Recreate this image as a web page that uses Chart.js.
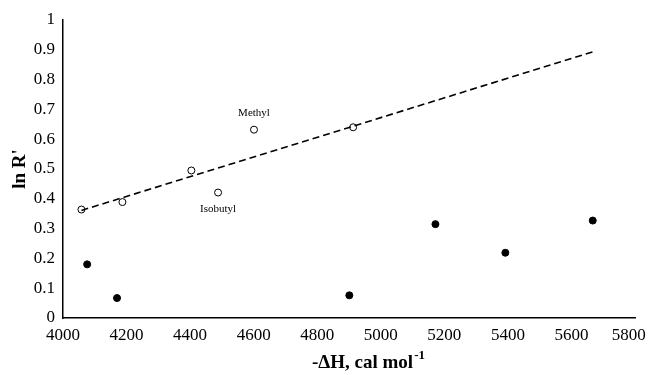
<!DOCTYPE html>
<html>
<head>
<meta charset="utf-8">
<script src="https://cdn.jsdelivr.net/npm/chart.js@4.4.0/dist/chart.umd.min.js"></script>
<style>
  html, body { margin: 0; padding: 0; background: #fff; }
  #wrap { width: 648px; height: 375px; }
</style>
</head>
<body>
<div id="wrap"><canvas id="chart" width="648" height="375"></canvas></div>
<script>
// open circles (fitted series)
const openX = [4058, 4187, 4404, 4488, 4601, 4913];
const openY = [0.364, 0.389, 0.495, 0.421, 0.632, 0.640];
// filled circles
const filledX = [4076, 4170, 4901, 5172, 5392, 5667];
const filledY = [0.180, 0.067, 0.076, 0.315, 0.219, 0.327];
// dashed trend line ends
const trendX = [4058, 5667];
const trendY = [0.361, 0.893];
// point labels
const labelNames = ["Methyl", "Isobutyl"];
const labelX = [4601, 4488];
const labelY = [0.632, 0.421];
const labelDy = [-17, 17];

const xTicks = [4000, 4200, 4400, 4600, 4800, 5000, 5200, 5400, 5600, 5800];
const yTicks = [0, 0.1, 0.2, 0.3, 0.4, 0.5, 0.6, 0.7, 0.8, 0.9, 1];

const serif = "'Liberation Serif', 'Times New Roman', serif";

function pts(xs, ys) {
  return xs.map((x, i) => ({ x: x, y: ys[i] }));
}

const extraText = {
  id: 'extraText',
  afterDraw(chart) {
    const ctx = chart.ctx;
    const xs = chart.scales.x, ys = chart.scales.y;
    ctx.save();
    ctx.fillStyle = '#000';
    ctx.font = '11px ' + serif;
    ctx.textAlign = 'center';
    ctx.textBaseline = 'middle';
    for (let i = 0; i < labelNames.length; i++) {
      ctx.fillText(labelNames[i], xs.getPixelForValue(labelX[i]), ys.getPixelForValue(labelY[i]) + labelDy[i]);
    }
    // x title with superscript
    ctx.font = 'bold 19px ' + serif;
    ctx.textAlign = 'left';
    ctx.textBaseline = 'alphabetic';
    const main = '-\u0394H, cal mol';
    const w = ctx.measureText(main).width;
    ctx.font = 'bold 13px ' + serif;
    const sw = ctx.measureText('-1').width;
    const cx = 368;
    const x0 = cx - (w + sw) / 2;
    ctx.font = 'bold 19px ' + serif;
    ctx.fillText(main, x0, 368);
    ctx.font = 'bold 13px ' + serif;
    ctx.fillText('-1', x0 + w + 1, 359);
    ctx.restore();
  }
};

new Chart(document.getElementById('chart'), {
  type: 'scatter',
  data: {
    datasets: [
      {
        type: 'line',
        data: pts(trendX, trendY),
        borderColor: '#000',
        borderWidth: 1.6,
        borderDash: [7, 4],
        pointRadius: 0,
        fill: false
      },
      {
        data: pts(openX, openY),
        backgroundColor: '#fff',
        borderColor: '#000',
        borderWidth: 1,
        pointRadius: 3.5
      },
      {
        data: pts(filledX, filledY),
        backgroundColor: '#000',
        borderColor: '#000',
        borderWidth: 1,
        pointRadius: 3.5
      }
    ]
  },
  options: {
    responsive: false,
    animation: false,
    layout: { padding: { top: 20, right: 13, left: 9, bottom: 0 } },
    plugins: { legend: { display: false }, tooltip: { enabled: false } },
    scales: {
      x: {
        type: 'linear',
        min: 4000,
        max: 5800,
        afterBuildTicks: (s) => { s.ticks = xTicks.map(v => ({ value: v })); },
        grid: { display: false, drawTicks: true, tickLength: 5, tickColor: '#000' },
        border: { color: '#000', width: 1.5 },
        ticks: { color: '#000', font: { family: serif, size: 17 }, padding: 2, maxRotation: 0,
                 callback: (v) => v === 5800 ? '5800   ' : String(v) },
        afterFit: (s) => { s.height = 57; s.paddingRight = 0; s.paddingLeft = 0; }
      },
      y: {
        min: 0,
        max: 1,
        afterBuildTicks: (s) => { s.ticks = yTicks.map(v => ({ value: v })); },
        grid: { display: false, drawTicks: true, tickLength: 5, tickColor: '#000' },
        border: { color: '#000', width: 1.5 },
        ticks: { color: '#000', font: { family: serif, size: 17 }, padding: 3,
                 callback: (v) => String(Math.round(v * 10) / 10) },
        title: { display: true, text: "ln R'", color: '#000', font: { family: serif, size: 19, weight: 'bold' }, padding: 0 },
        afterFit: (s) => { s.width = 54; s.paddingTop = 0; s.paddingBottom = 0; }
      }
    }
  },
  plugins: [extraText]
});
</script>
</body>
</html>
